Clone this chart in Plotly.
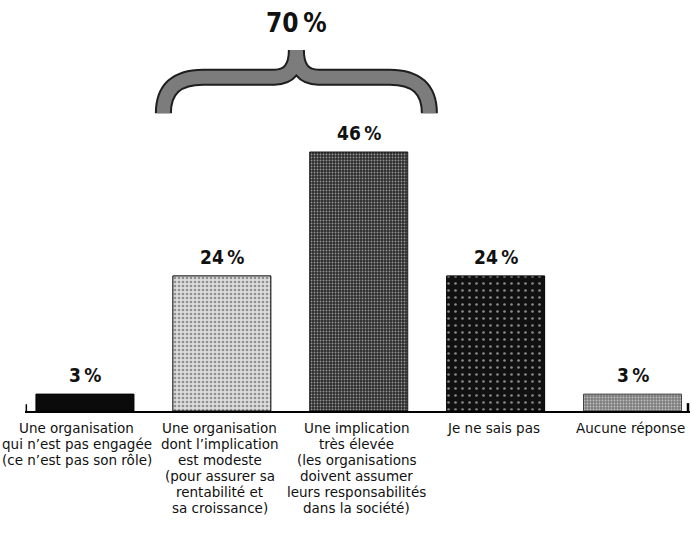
import plotly.graph_objects as go

# ---- data ----
categories = ["Pas engagée", "Implication modeste", "Implication très élevée", "Je ne sais pas", "Aucune réponse"]
values = [3, 24, 46, 24, 3]
label_lines = [
    ["Une organisation", "qui n’est pas engagée", "(ce n’est pas son rôle)"],
    ["Une organisation", "dont l’implication", "est modeste", "(pour assurer sa", "rentabilité et", "sa croissance)"],
    ["Une implication", "très élevée", "(les organisations", "doivent assumer", "leurs responsabilités", "dans la société)"],
    ["Je ne sais pas"],
    ["Aucune réponse"],
]
group_idx = [1, 2]  # bars summed by the brace

# ---- styles ----
bar_bg = ["#0b0b0b", "#dcdcdc", "#2c2c2c", "#111111", "#7e7e7e"]
bar_fg = ["#0b0b0b", "#555555", "#9a9a9a", "#8a8a8a", "#bdbdbd"]
bar_shape = ["", ".", ".", ".", "."]
bar_size = [4, 4, 3, 7, 3]
bar_solid = [0.3, 0.35, 0.3, 0.12, 0.3]
bar_line = ["#000000", "#000000", "#1a1a1a", "#000000", "#444444"]

FONT_LBL = "DejaVu Sans, sans-serif"
FONT_VAL = "DejaVu Sans Condensed, DejaVu Sans, sans-serif"

x = list(range(len(values)))
fig = go.Figure()
fig.add_trace(go.Bar(
    x=x, y=values, width=0.716,
    marker=dict(
        color=bar_bg,
        line=dict(color=bar_line, width=1),
        pattern=dict(shape=bar_shape, fgcolor=bar_fg, bgcolor=bar_bg,
                     size=bar_size, solidity=bar_solid, fillmode="overlay"),
    ),
    hoverinfo="skip",
))

annotations = []
for i, v in enumerate(values):
    annotations.append(dict(
        x=i, y=v, xref="x", yref="y", text=f"{v}\u2009%", showarrow=False,
        yanchor="middle", yshift=19,
        font=dict(family=FONT_VAL, size=19, color="#111111", weight="bold"),
    ))
    for k, line in enumerate(label_lines[i]):
        annotations.append(dict(
            x=i, y=0, xref="x", yref="y", text=line, showarrow=False,
            yanchor="middle", yshift=-17 - 15.9 * k, borderpad=0,
            xshift=-8 if i == 0 else -2,
            font=dict(family=FONT_LBL, size=13.5, color="#111111"),
        ))

# ---- brace over the grouped bars ----
g0, g1 = min(group_idx), max(group_idx)
xl = g0 - 0.427
xr = g1 + 0.516
xc = (xl + xr) / 2
yb = max(values[g] for g in group_idx) + 6.9
yband = yb + 6.4
ytip = yb + 11.2
dx1, dx2 = 0.29, 0.16
path = (f"M {xl},{yb} Q {xl},{yband} {xl+dx1},{yband} L {xc-dx2},{yband} Q {xc},{yband} {xc},{ytip} "
        f"M {xr},{yb} Q {xr},{yband} {xr-dx1},{yband} L {xc+dx2},{yband} Q {xc},{yband} {xc},{ytip}")
shapes = [
    dict(type="path", path=path, xref="x", yref="y", line=dict(color="#1e1e1e", width=17)),
    dict(type="path", path=path, xref="x", yref="y", line=dict(color="#7c7c7c", width=13)),
    dict(type="line", xref="paper", yref="y", x0=0.002, x1=0.002, y0=0, y1=1.2,
         line=dict(color="#000", width=1.5)),
    dict(type="line", xref="paper", yref="y", x0=0.997, x1=0.997, y0=0, y1=1.4,
         line=dict(color="#000", width=2.5)),
]
group_total = sum(values[g] for g in group_idx)
annotations.append(dict(
    x=xc, y=ytip, xref="x", yref="y", text=f"{group_total}\u2009%", showarrow=False,
    yanchor="middle", yshift=27,
    font=dict(family=FONT_VAL, size=26, color="#111111", weight="bold"),
))

fig.update_layout(
    width=692, height=542,
    margin=dict(l=25, r=2, t=0, b=131),
    paper_bgcolor="white", plot_bgcolor="white",
    showlegend=False,
    xaxis=dict(range=[-0.438, 4.42], showticklabels=False, showgrid=False, zeroline=False,
               showline=True, linecolor="#000", linewidth=1.5, ticks=""),
    yaxis=dict(range=[0, 73.0], visible=False, showgrid=False, zeroline=False),
    annotations=annotations, shapes=shapes,
)
fig.write_html("out.html")
